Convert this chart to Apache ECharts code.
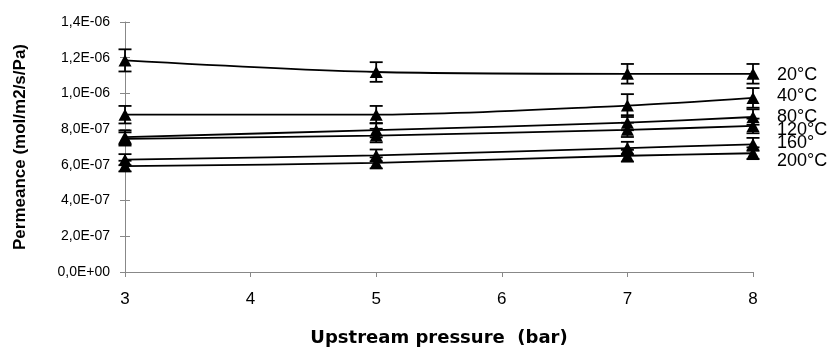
<!DOCTYPE html>
<html>
<head>
<meta charset="utf-8">
<script src="https://cdn.jsdelivr.net/npm/echarts@6/dist/echarts.min.js"></script>
<style>html,body{margin:0;padding:0;background:#fff}#c{width:832px;height:352px}</style>
</head>
<body>
<div id="c"></div>
<script>
var pressures = [3, 5, 7, 8];
var seriesNames = ['20°C', '40°C', '80°C', '120°C', '160°', '200°C'];
var p20  = [1.185e-6, 1.12e-6, 1.11e-6, 1.11e-6];
var p40  = [8.81e-7, 8.81e-7, 9.32e-7, 9.75e-7];
var p80  = [7.55e-7, 7.94e-7, 8.36e-7, 8.68e-7];
var p120 = [7.45e-7, 7.64e-7, 7.96e-7, 8.18e-7];
var p160 = [6.29e-7, 6.53e-7, 6.94e-7, 7.15e-7];
var p200 = [5.93e-7, 6.11e-7, 6.51e-7, 6.65e-7];
var e20  = [6.2e-8, 5.5e-8, 5.5e-8, 5.5e-8];
var e40  = [4.9e-8, 4.9e-8, 6.4e-8, 5.5e-8];
var e80  = [3.8e-8, 4.0e-8, 4.2e-8, 4.3e-8];
var e120 = [3.7e-8, 3.8e-8, 4.0e-8, 4.1e-8];
var e160 = [3.1e-8, 3.3e-8, 3.5e-8, 3.6e-8];
var e200 = [3.0e-8, 3.1e-8, 3.3e-8, 3.3e-8];
var yTicks = ['0,0E+00','2,0E-07','4,0E-07','6,0E-07','8,0E-07','1,0E-06','1,2E-06','1,4E-06'];

var values = [p20, p40, p80, p120, p160, p200];
var errors = [e20, e40, e80, e120, e160, e200];
var labelDy = [1, -2, 0, 4, -1, 8];

function fmtY(v) {
  var i = Math.round(v / 2e-7);
  return yTicks[i] !== undefined ? yTicks[i] : '';
}

var series = [];
values.forEach(function (vals, si) {
  var errData = pressures.map(function (x, i) { return [x, vals[i], errors[si][i]]; });
  series.push({
    type: 'custom',
    z: 2,
    silent: true,
    data: errData,
    renderItem: function (params, api) {
      var x = api.value(0), y = api.value(1), e = api.value(2);
      var top = api.coord([x, y + e]);
      var bot = api.coord([x, y - e]);
      var hw = 6.5;
      var st = { stroke: '#000', lineWidth: 1.8 };
      return {
        type: 'group',
        children: [
          { type: 'line', shape: { x1: top[0], y1: top[1], x2: bot[0], y2: bot[1] }, style: st },
          { type: 'line', shape: { x1: top[0] - hw, y1: top[1], x2: top[0] + hw, y2: top[1] }, style: st },
          { type: 'line', shape: { x1: bot[0] - hw, y1: bot[1], x2: bot[0] + hw, y2: bot[1] }, style: st }
        ]
      };
    }
  });
  series.push({
    type: 'line',
    name: seriesNames[si],
    z: 3,
    smooth: 0.3,
    data: pressures.map(function (x, i) { return [x, vals[i]]; }),
    symbol: 'triangle',
    symbolSize: [13, 12],
    showAllSymbol: true,
    lineStyle: { color: '#000', width: 1.8 },
    itemStyle: { color: '#000', borderWidth: 0 },
    endLabel: {
      show: true,
      formatter: seriesNames[si],
      distance: 24,
      offset: [0, labelDy[si]],
      color: '#000',
      fontFamily: 'Liberation Sans',
      fontSize: 18
    }
  });
});

var chart = echarts.init(document.getElementById('c'), null, { renderer: 'canvas' });
chart.setOption({
  animation: false,
  backgroundColor: '#fff',
  grid: { left: 125, right: 79, top: 22, bottom: 76, containLabel: false },
  xAxis: {
    type: 'value', min: 3, max: 8, interval: 1,
    name: 'Upstream pressure  (bar)', nameLocation: 'middle', nameGap: 57,
    nameTextStyle: { fontFamily: 'DejaVu Sans', fontWeight: 'bold', fontSize: 18, color: '#000' },
    axisLine: { show: true, lineStyle: { color: '#888', width: 1 } },
    axisTick: { show: true, inside: false, length: 5, lineStyle: { color: '#888' } },
    axisLabel: { fontFamily: "'Liberation Sans Narrow', 'Liberation Sans'", fontSize: 17, color: '#000', margin: 19 },
    splitLine: { show: false }
  },
  yAxis: [{
    type: 'value', min: 0, max: 1.4e-6, interval: 2e-7,
    name: 'Permeance (mol/m2/s/Pa)', nameLocation: 'middle', nameGap: 96,
    nameTextStyle: { fontFamily: 'Liberation Sans', fontWeight: 'bold', fontSize: 17, color: '#000' },
    axisLine: { show: true, lineStyle: { color: '#888', width: 1 } },
    axisTick: { show: true, inside: false, length: 5, lineStyle: { color: '#888' } },
    axisLabel: { fontFamily: 'Liberation Sans', fontSize: 14, color: '#000', margin: 15, formatter: fmtY },
    splitLine: { show: false }
  }, {
    type: 'value', min: 0, max: 1.4e-6, interval: 2e-7, position: 'left',
    axisLine: { show: false },
    axisTick: { show: true, inside: true, length: 5, lineStyle: { color: '#888' } },
    axisLabel: { show: false },
    splitLine: { show: false }
  }],
  series: series
});
</script>
</body>
</html>
